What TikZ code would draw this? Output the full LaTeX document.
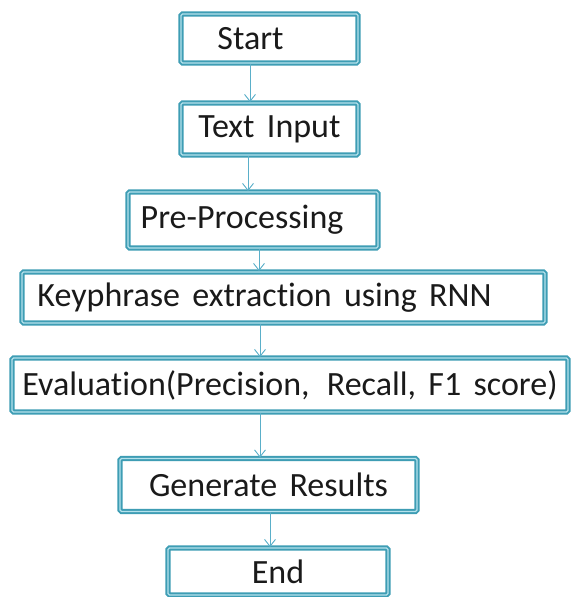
\documentclass[tikz,border=0pt]{standalone}
\usepackage{fontspec}
\setmainfont{Carlito}[WordSpace=1.6,Ligatures={NoCommon}]
\usetikzlibrary{arrows.meta}
\definecolor{boxteal}{HTML}{3E9DB4}
\definecolor{boxinner}{HTML}{B5E2EC}
\definecolor{arrteal}{HTML}{5AAFC9}
\definecolor{txt}{HTML}{1A1A1A}
\tikzset{
  stepbox/.style={draw=boxteal, double=boxinner, double distance=1.3pt, line width=1.9pt,
    rounded corners=1.5pt, fill=white, text=txt, inner sep=0pt,
    font=\fontsize{34}{40}\selectfont},
  arr/.style={draw=arrteal, line width=0.9pt, -{Straight Barb[length=7pt,width=11pt]}}
}
\begin{document}
\begin{tikzpicture}[x=1pt,y=-1pt]
\useasboundingbox (0,0) rectangle (573,597);
\node[stepbox, minimum width=177, minimum height=49] (start) at (269.5,38.5) {Start\kern38pt};
\node[stepbox, minimum width=177, minimum height=52] (input) at (269.5,129) {Text Input};
\node[stepbox, minimum width=250, minimum height=56] (pre) at (253,220) {Pre-Processing\kern22pt};
\node[stepbox, minimum width=523, minimum height=51] (key) at (283.5,297.5) {Keyphrase extraction using RNN\kern38pt};
\node[stepbox, minimum width=556, minimum height=54] (eval) at (290,385) {Evaluation(Precision, \kern5pt Recall, F1 score)};
\node[stepbox, minimum width=297, minimum height=53] (gen) at (268.5,485) {Generate Results};
\node[stepbox, minimum width=220, minimum height=47] (end) at (278,571.5) {End};
\draw[arr] (start.south -| 250,0) -- (input.north -| 250,0);
\draw[arr] (input.south -| 248,0) -- (pre.north -| 248,0);
\draw[arr] (pre.south -| 259,0) -- (key.north -| 259,0);
\draw[arr] (key.south -| 260,0) -- (eval.north -| 260,0);
\draw[arr] (eval.south -| 260,0) -- (gen.north -| 260,0);
\draw[arr] (gen.south -| 270,0) -- (end.north -| 270,0);
\end{tikzpicture}
\end{document}
